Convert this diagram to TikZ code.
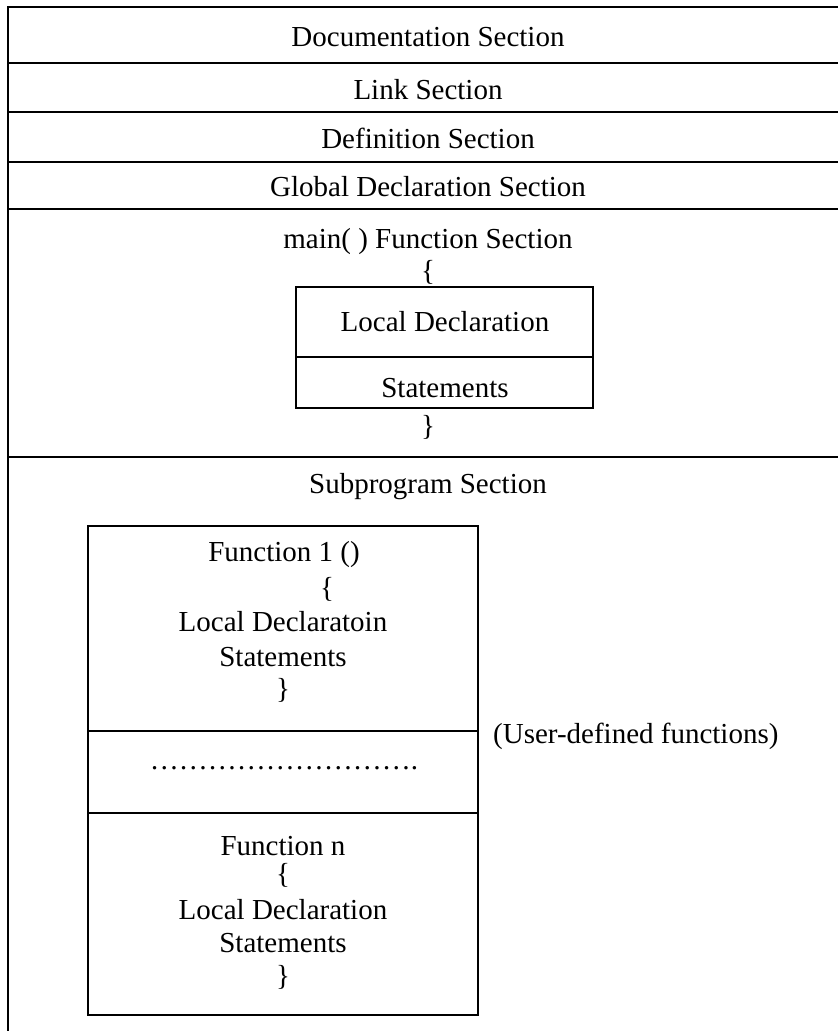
\documentclass[tikz,border=0pt]{standalone}
\usepackage{fontspec}
\setmainfont{Liberation Serif}
\begin{document}
\begin{tikzpicture}[x=1pt,y=-1pt,
  rule/.style={line width=2.5pt},
  boxline/.style={line width=2pt},
  lbl/.style={anchor=base, inner sep=0pt, font=\fontsize{29}{35}\selectfont}]
\useasboundingbox (0,0) rectangle (838,1031);

% outer frame and section rules
\draw[rule] (838,7) -- (8,7) -- (8,1031);
\foreach \y in {63,112,162,209,457} \draw[rule] (8,\y) -- (838,\y);

% section titles
\node[lbl] (doc)  at (428,46)  {Documentation Section};
\node[lbl] (link) at (428,99)  {Link Section};
\node[lbl] (def)  at (428,148) {Definition Section};
\node[lbl] (glob) at (428,196) {Global Declaration Section};
\node[lbl] (main) at (428,248) {main( ) Function Section};
\node[lbl] (mopen) at (428,280) {\{};

% body of main()
\draw[boxline] (296,287) rectangle (593,408);
\draw[boxline] (296,357) -- (593,357);
\node[lbl] (mdecl) at (445,331) {Local Declaration};
\node[lbl] (mstmt) at (445,397) {Statements};
\node[lbl] (mclose) at (428,435) {\}};

% subprograms
\node[lbl] (sub) at (428,493) {Subprogram Section};
\draw[boxline] (88,526) rectangle (478,1015);
\draw[boxline] (88,731) -- (478,731);
\draw[boxline] (88,813) -- (478,813);

\node[lbl] (f1)      at (284,561) {Function 1 ()};
\node[lbl] (f1open)  at (327,597) {\{};
\node[lbl] (f1decl)  at (283,631) {Local Declaratoin};
\node[lbl] (f1stmt)  at (283,666) {Statements};
\node[lbl] (f1close) at (283,698) {\}};

\node[lbl] (dots) at (284,769) {……………………….};

\node[lbl] (fn)      at (283,855) {Function n};
\node[lbl] (fnopen)  at (283,883) {\{};
\node[lbl] (fndecl)  at (283,919) {Local Declaration};
\node[lbl] (fnstmt)  at (283,952) {Statements};
\node[lbl] (fnclose) at (283,985) {\}};

\node[lbl, anchor=base west] (udf) at (493,743) {(User-defined functions)};
\end{tikzpicture}
\end{document}
